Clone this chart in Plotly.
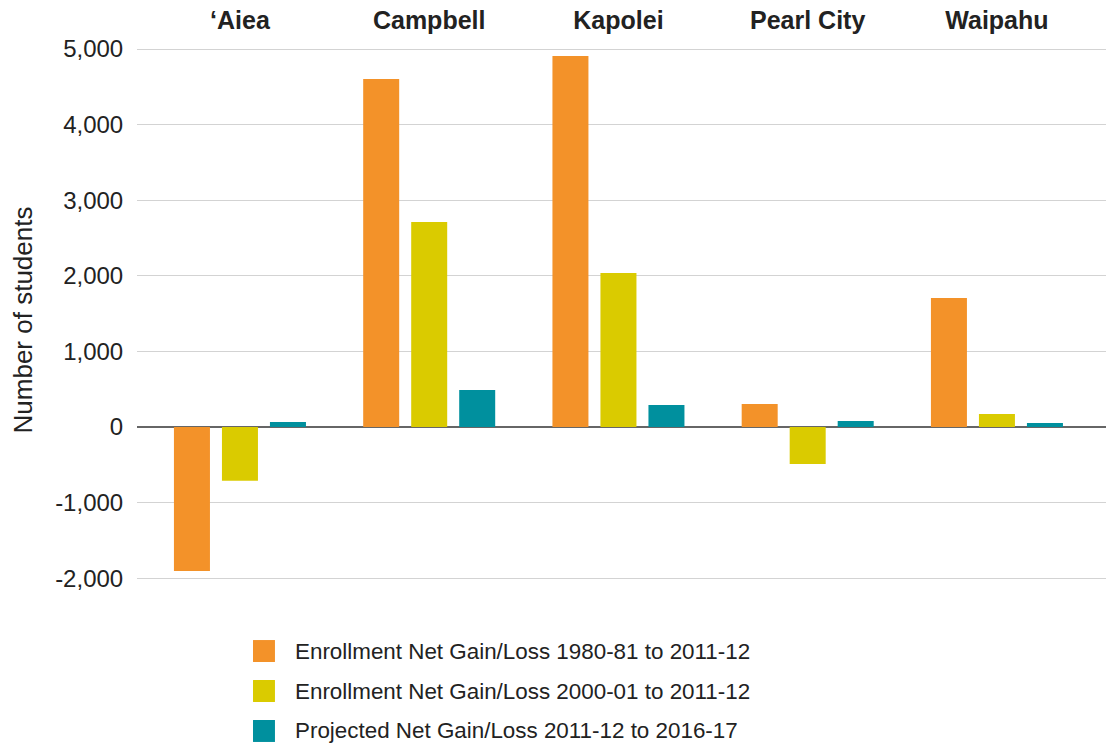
import plotly.graph_objects as go

categories = ["\u2018Aiea", "Campbell", "Kapolei", "Pearl City", "Waipahu"]
series_names = [
    "Enrollment Net Gain/Loss 1980-81 to 2011-12",
    "Enrollment Net Gain/Loss 2000-01 to 2011-12",
    "Projected Net Gain/Loss 2011-12 to 2016-17",
]
gain_1980 = [-1905, 4603, 4907, 304, 1706]
gain_2000 = [-712, 2712, 2037, -489, 172]
projected = [66, 489, 291, 79, 53]
colors = ["#F39229", "#DACB00", "#00909E"]
y_ticks = [-2000, -1000, 0, 1000, 2000, 3000, 4000, 5000]
y_tick_labels = ["-2,000", "-1,000", "0", "1,000", "2,000", "3,000", "4,000", "5,000"]

FONT = "Liberation Sans, Arial, sans-serif"
TXT = "#222222"
fig = go.Figure()
for name, vals, col in zip(series_names, [gain_1980, gain_2000, projected], colors):
    fig.add_trace(go.Bar(x=list(range(len(categories))), y=vals, name=name,
                         marker=dict(color=col, line=dict(width=0)), showlegend=False))

# custom legend (large swatches)
row_y = [-0.0911, -0.1625, -0.2339]
for i, (name, col) in enumerate(zip(series_names, colors)):
    fig.add_shape(type="rect", xref="paper", yref="paper",
                  x0=0.119, x1=0.1415, y0=row_y[i] - 0.0196, y1=row_y[i] + 0.0196,
                  fillcolor=col, line=dict(width=0))
    fig.add_annotation(xref="paper", yref="paper", x=0.16, y=row_y[i], text=name,
                       showarrow=False, xanchor="left", yanchor="middle",
                       font=dict(family=FONT, size=22.4, color=TXT))

fig.update_layout(
    width=1106, height=738,
    margin=dict(l=129, r=2, t=32, b=146),
    plot_bgcolor="white", paper_bgcolor="white",
    barmode="group", bargap=0.239, bargroupgap=0.25,
    font=dict(family=FONT, size=23, color=TXT),
    showlegend=False,
)
fig.update_xaxes(side="top", tickmode="array", tickvals=list(range(len(categories))),
                 ticktext=[f"<b>{c}</b>" for c in categories], range=[-0.544, 4.608],
                 showgrid=False, showline=False, zeroline=False, automargin=False,
                 tickfont=dict(size=25, family=FONT, color=TXT),
                 ticks="outside", ticklen=0)
fig.update_yaxes(range=[-2288, 5119], tickmode="array", tickvals=y_ticks,
                 ticktext=y_tick_labels, automargin=False,
                 showgrid=True, gridcolor="#D3D3D3", gridwidth=1,
                 zeroline=True, zerolinecolor="#666666", zerolinewidth=2,
                 showline=False, ticks="outside", ticklen=8, tickcolor="rgba(0,0,0,0)",
                 tickfont=dict(size=24, family=FONT, color=TXT),
                 title=dict(text="Number of students", standoff=21,
                            font=dict(size=26, family=FONT, color=TXT)))
fig.write_html("out.html")
